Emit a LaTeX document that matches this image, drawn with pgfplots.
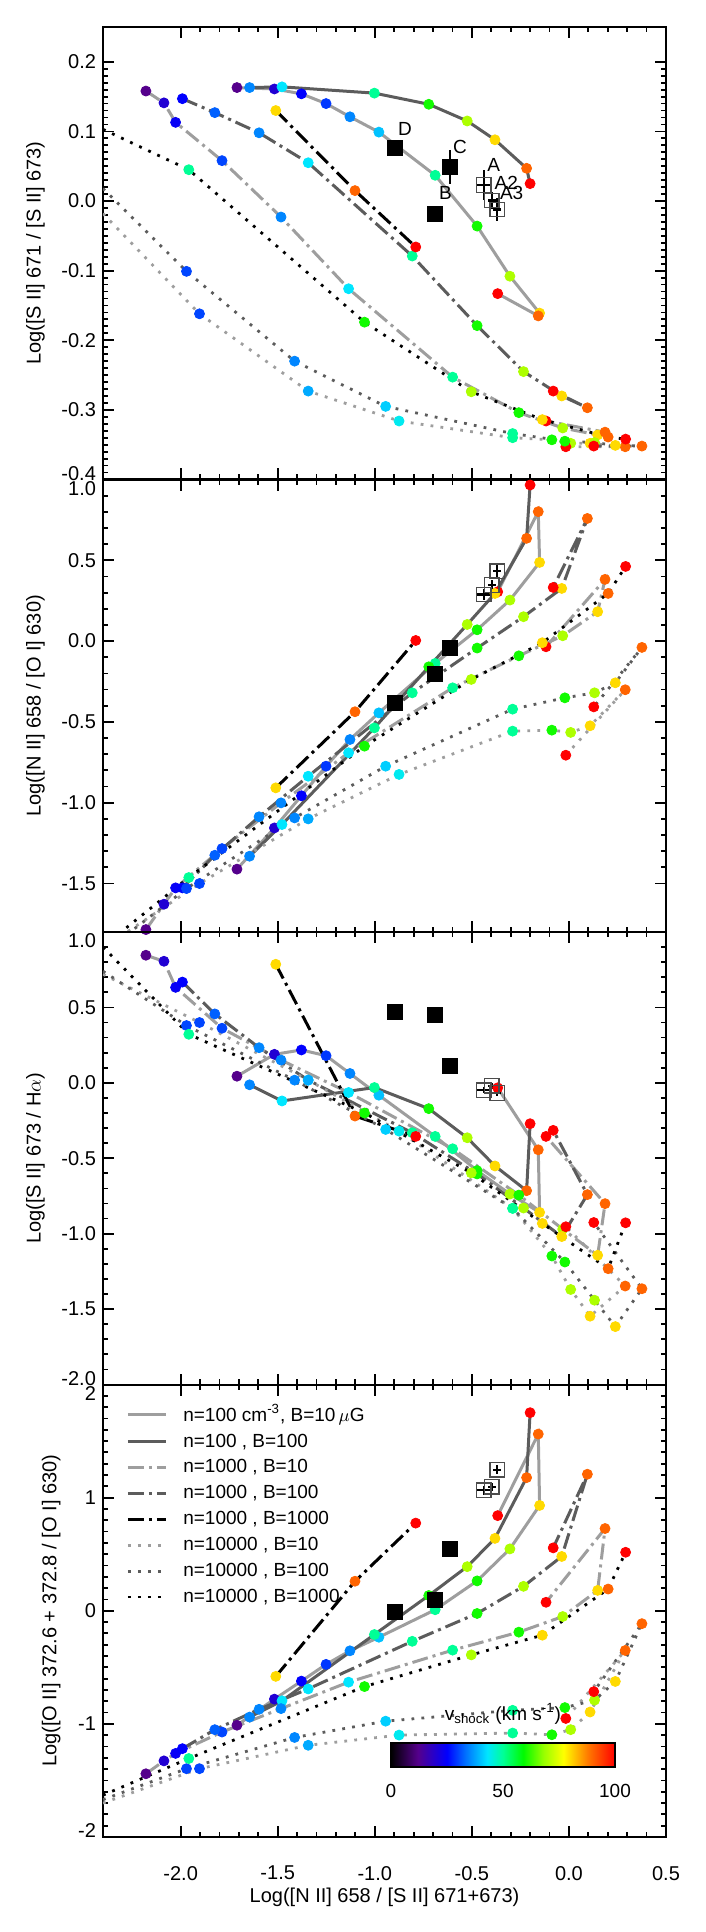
\documentclass[border=0pt]{standalone}
\usepackage{fontspec}
\setmainfont{Liberation Sans}
\usepackage{pgfplots}
\usepackage{pgfplotstable}
\pgfplotsset{compat=1.18}

\definecolor{lgray}{RGB}{158,158,158}
\definecolor{dgray}{RGB}{92,92,92}

% x = Log([N II]/[S II]), v = shock speed, a..d = y of the four panels
% n=100, B=10
\pgfplotstableread{
x      v    a       b       c       d
-1.710 12   0.163  -1.411   0.044  -1.012
-1.517 20   0.161  -1.156   0.189  -0.781
-1.378 25   0.154  -0.957   0.218  -0.622
-1.251 29   0.140  -0.774   0.180  -0.474
-1.128 35   0.121  -0.609   0.062  -0.354
-0.979 40   0.099  -0.444  -0.082  -0.234
-0.689 50   0.037  -0.138  -0.355   0.009
-0.473 60  -0.036   0.070  -0.582   0.264
-0.304 70  -0.108   0.254  -0.737   0.547
-0.151 80  -0.161   0.487  -0.859   0.931
-0.158 90  -0.165   0.801  -0.444   1.562
-0.367 100 -0.133   0.305  -0.033   0.841
}\mA
% n=100, B=100
\pgfplotstableread{
x      v    a       b       c       d
-1.645 35   0.163  -1.331  -0.013  -0.940
-1.478 43   0.164  -1.135  -0.120  -0.796
-1.002 50   0.155  -0.537  -0.031  -0.210
-0.722 60   0.139  -0.159  -0.171   0.135
-0.524 70   0.115   0.103  -0.364   0.390
-0.381 80   0.088   0.295  -0.551   0.640
-0.218 90   0.047   0.636  -0.715   1.177
-0.200 100  0.025   0.966  -0.271   1.751
}\mB
% n=1000, B=10
\pgfplotstableread{
x      v    a       b       c       d
-2.179 12   0.158  -1.785   0.846  -1.441
-2.086 20   0.141  -1.628   0.806  -1.327
-2.026 24   0.113  -1.527   0.633  -1.261
-1.787 30   0.058  -1.284   0.362  -1.072
-1.483 35  -0.023  -1.001   0.151  -0.865
-1.135 43  -0.126  -0.691  -0.064  -0.631
-0.599 50  -0.253  -0.289  -0.437  -0.348
-0.258 60  -0.304  -0.091  -0.744  -0.189
-0.032 70  -0.326   0.033  -0.970  -0.051
 0.148 80  -0.336   0.182  -1.143   0.180
 0.186 90  -0.332   0.382  -0.801   0.727
-0.118 100 -0.316  -0.035  -0.355   0.075
}\mC
% n=1000, B=100
\pgfplotstableread{
x      v    a       b       c       d
-1.991 25   0.147  -1.527   0.668  -1.219
-1.824 32   0.127  -1.325   0.457  -1.051
-1.596 35   0.098  -1.087   0.233  -0.871
-1.343 43   0.055  -0.836   0.018  -0.691
-0.807 50  -0.079  -0.320  -0.331  -0.270
-0.473 60  -0.179  -0.043  -0.604  -0.024
-0.234 70  -0.245   0.151  -0.830   0.216
-0.037 80  -0.280   0.326  -1.019   0.480
 0.095 90  -0.297   0.759  -0.741   1.207
-0.081 100 -0.273   0.332  -0.315   0.556
}\mD
% n=1000, B=1000
\pgfplotstableread{
x      v    a       b       c       d
-1.510 80   0.130  -0.908   0.786  -0.580
-1.102 90   0.015  -0.437  -0.220   0.261
-0.789 100 -0.066   0.004  -0.355   0.775
}\mE
% n=10000, B=10 (first row: where the line leaves the frame)
\pgfplotstableread{
x      v    a       b       c       d
-2.400 0   -0.018  -1.900   0.720  -1.700
-1.903 30  -0.162  -1.500   0.400  -1.396
-1.343 38  -0.273  -1.100   0.018  -1.189
-0.875 44  -0.316  -0.825  -0.320  -1.099
-0.290 50  -0.340  -0.557  -0.832  -1.081
-0.088 60  -0.343  -0.551  -1.148  -1.096
 0.009 70  -0.348  -0.565  -1.370  -1.051
 0.109 80  -0.348  -0.524  -1.547  -0.895
 0.290 90  -0.353  -0.301  -1.347  -0.351
-0.016 100 -0.353  -0.706  -0.954  -0.952
}\mF
% n=10000, B=100
\pgfplotstableread{
x      v    a       b       c       d
-2.400 0    0.018  -1.930   0.740  -1.670
-1.970 30  -0.101  -1.531   0.380  -1.396
-1.413 35  -0.230  -1.094   0.018  -1.120
-0.944 41  -0.295  -0.774  -0.309  -0.976
-0.290 50  -0.334  -0.421  -0.832  -0.880
-0.021 60  -0.345  -0.351  -1.188  -0.856
 0.132 70  -0.347  -0.320  -1.441  -0.790
 0.239 80  -0.351  -0.258  -1.616  -0.625
 0.376 90  -0.352  -0.039  -1.365  -0.114
 0.128 100 -0.352  -0.407  -0.926  -0.715
}\mG
% n=10000, B=1000
\pgfplotstableread{
x      v    a       b       c       d
-2.400 0    0.103  -1.890   0.900  -1.630
-1.958 50   0.045  -1.463   0.322  -1.306
-1.053 60  -0.174  -0.650  -0.200  -0.670
-0.503 70  -0.274  -0.237  -0.597  -0.390
-0.137 80  -0.314  -0.010  -0.932  -0.216
 0.202 90  -0.339   0.295  -1.232   0.192
 0.292 100 -0.342   0.462  -0.928   0.517
}\mH
% observed: D, B, C
\pgfplotstableread{
x      a      ea     b       c      d
-0.896  0.076 0.000  -0.380  0.468  -0.009
-0.689 -0.018 0.000  -0.200  0.451   0.099
-0.613  0.049 0.025  -0.045  0.111   0.550
}\obsK
% observed: A, A2, A3
\pgfplotstableread{
x      ex     a       ea     b      eb     c       ec     d      ed
-0.439 0.032  0.023  0.022  0.289  0.035 -0.049  0.020  1.066  0.040
-0.397 0.020  0.001  0.012  0.347  0.030 -0.020  0.020  1.096  0.035
-0.369 0.020 -0.012  0.016  0.433  0.035 -0.067  0.020  1.246  0.040
}\obsO

\pgfplotsset{
  /pgf/number format/assume math mode=true,
  lA/.style={draw=lgray, line width=1.5pt},
  lB/.style={draw=dgray, line width=1.5pt},
  dd/.style={line width=1.5pt, dash pattern=on 8pt off 2.5pt on 1.5pt off 2.5pt},
  lC/.style={draw=lgray, dd},
  lD/.style={draw=dgray, dd},
  lE/.style={draw=black, dd},
  dt/.style={line width=1.4pt, dash pattern=on 1.4pt off 3.6pt},
  lF/.style={draw=lgray, dt},
  lG/.style={draw=dgray, dt},
  lH/.style={draw=black, dt},
  dots/.style={scatter, only marks, mark=*, mark size=2.5pt, point meta=explicit,
    scatter/use mapped color={draw=mapped color, fill=mapped color},
    restrict x to domain=-2.39:1, forget plot},
  edgelabels/.style 2 args={yticklabel={%
    \ifnum\ticknum=#1\relax\raisebox{3pt}[\height][\depth]{\axisdefaultticklabel}%
    \else\ifnum\ticknum=#2\relax\raisebox{-4.5pt}[\height][\depth]{\axisdefaultticklabel}%
    \else\axisdefaultticklabel\fi\fi}},
  panel/.style={
    scale only axis, width=281.5pt, height=226.25pt,
    anchor=north west,
    xmin=-2.4, xmax=0.5,
    xtick={-2,-1.5,-1,-0.5,0,0.5},
    minor x tick num=4,
    xticklabels={},
    tick align=inside,
    major tick length=5.5pt, minor tick length=2.7pt,
    every tick/.style={black, line width=0.9pt},
    axis line style={line width=1pt},
    yticklabel style={/pgf/number format/fixed, /pgf/number format/zerofill,
      /pgf/number format/precision=1},
    ylabel style={at={(axis description cs:-0.12,0.5)}, anchor=center},
    colormap={idl}{
      rgb255(0cm)=(0,0,0);
      rgb255(0.12cm)=(85,0,140);
      rgb255(0.25cm)=(0,0,255);
      rgb255(0.33cm)=(0,110,255);
      rgb255(0.43cm)=(0,230,255);
      rgb255(0.5cm)=(0,255,150);
      rgb255(0.59cm)=(0,250,0);
      rgb255(0.68cm)=(150,255,0);
      rgb255(0.77cm)=(255,255,0);
      rgb255(0.88cm)=(255,120,0);
      rgb255(1cm)=(255,0,0)
    },
    point meta min=0, point meta max=100,
  },
}

\newcommand\drawmodels[1]{%
  \addplot[lA] table[x=x,y=#1]{\mA};
  \addplot[lB] table[x=x,y=#1]{\mB};
  \addplot[lC] table[x=x,y=#1]{\mC};
  \addplot[lD] table[x=x,y=#1]{\mD};
  \addplot[lE] table[x=x,y=#1]{\mE};
  \addplot[lF] table[x=x,y=#1]{\mF};
  \addplot[lG] table[x=x,y=#1]{\mG};
  \addplot[lH] table[x=x,y=#1]{\mH};
  \addplot[dots] table[x=x,y=#1,meta=v]{\mA};
  \addplot[dots] table[x=x,y=#1,meta=v]{\mB};
  \addplot[dots] table[x=x,y=#1,meta=v]{\mC};
  \addplot[dots] table[x=x,y=#1,meta=v]{\mD};
  \addplot[dots] table[x=x,y=#1,meta=v]{\mE};
  \addplot[dots] table[x=x,y=#1,meta=v]{\mF};
  \addplot[dots] table[x=x,y=#1,meta=v]{\mG};
  \addplot[dots] table[x=x,y=#1,meta=v]{\mH};
}
\newcommand\drawobs[2]{%
  \addplot[only marks, mark=square*, mark size=3.75pt, black, forget plot]
    table[x=x,y=#1]{\obsK};
  \addplot[only marks, mark=square, mark size=3.6pt,
    mark options={draw=black!70, line width=0.6pt}, forget plot,
    error bars/.cd, x dir=both, x explicit, y dir=both, y explicit, error mark=none,
    error bar style={black, line width=1.2pt}]
    table[x=x,y=#1,x error=ex,y error=#2]{\obsO};
}

\begin{document}
\begin{tikzpicture}

\begin{axis}[panel, at={(0pt,0pt)},
  ymin=-0.4, ymax=0.25,
  ytick={-0.4,-0.3,-0.2,-0.1,0,0.1,0.2},
  minor y tick num=9,
  edgelabels={0}{99},
  ylabel={Log([S II] 671 / [S II] 673)}]
\drawmodels{a}
\addplot[only marks, mark=square*, mark size=3.75pt, black, forget plot,
  error bars/.cd, y dir=both, y explicit, error mark=none,
  error bar style={line width=1.3pt}]
  table[x=x,y=a,y error=ea]{\obsK};
\addplot[only marks, mark=square, mark size=3.6pt,
  mark options={draw=black!70, line width=0.6pt}, forget plot,
  error bars/.cd, x dir=both, x explicit, y dir=both, y explicit, error mark=none,
  error bar style={black, line width=1.2pt}]
  table[x=x,y=a,x error=ex,y error=ea]{\obsO};
\node[font=\fontsize{9.5}{11}\selectfont] at (axis cs:-0.845,0.104) {D};
\node[font=\fontsize{9.5}{11}\selectfont] at (axis cs:-0.561,0.078) {C};
\node[font=\fontsize{9.5}{11}\selectfont] at (axis cs:-0.636,0.011) {B};
\node[font=\fontsize{9.5}{11}\selectfont] at (axis cs:-0.388,0.052) {A};
\node[font=\fontsize{9.5}{11}\selectfont] at (axis cs:-0.323,0.026) {A2};
\node[font=\fontsize{9.5}{11}\selectfont] at (axis cs:-0.295,0.012) {A3};
\end{axis}

\begin{axis}[panel, at={(0pt,-226.25pt)},
  ymin=-1.8, ymax=1.0,
  ytick={-1.5,-1,-0.5,0,0.5,1},
  minor y tick num=4,
  edgelabels={99}{5},
  ylabel={Log([N II] 658 / [O I] 630)}]
\drawmodels{b}
\drawobs{b}{eb}
\end{axis}

\begin{axis}[panel, at={(0pt,-452.5pt)},
  ymin=-2, ymax=1.0,
  ytick={-2,-1.5,-1,-0.5,0,0.5,1},
  minor y tick num=4,
  edgelabels={0}{6},
  ylabel={Log([S II] 673 / H$\alpha$)}]
\drawmodels{c}
\drawobs{c}{ec}
\end{axis}

\begin{axis}[panel, at={(0pt,-678.75pt)},
  ymin=-2, ymax=2,
  ytick={-2,-1,0,1,2},
  minor y tick num=9,
  edgelabels={0}{4},
  yticklabel style={/pgf/number format/precision=0, /pgf/number format/zerofill=false},
  ylabel style={at={(axis description cs:-0.092,0.5)}},
  ylabel={Log([O II] 372.6 + 372.8 / [O I] 630)},
  xticklabels={-2.0,-1.5,-1.0,-0.5,0.0,0.5},
  xticklabel style={yshift=-11pt},
  xlabel={Log([N II] 658 / [S II] 671+673)},
  xlabel style={at={(axis description cs:0.5,-0.1326)}, anchor=center},
  legend cell align=left,
  legend image code/.code={\draw[#1] (0pt,0pt) -- (19pt,0pt);},
  legend style={at={(axis description cs:0.03,0.975)}, anchor=north west,
    draw=none, fill=none, font=\fontsize{9.5}{11}\selectfont,
    row sep=0.8pt, /tikz/every odd column/.append style={column sep=6pt}},
  legend entries={
    {n=100 cm\textsuperscript{-3}, B=10\,$\mu$G},
    {n=100 , B=100},
    {n=1000 , B=10},
    {n=1000 , B=100},
    {n=1000 , B=1000},
    {n=10000 , B=10},
    {n=10000 , B=100},
    {n=10000 , B=1000}},
  colorbar horizontal,
  colorbar shift/.style={xshift=-25.5pt, yshift=35pt},
  colorbar style={
    at={(parent axis.south east)}, anchor=south east,
    width=112pt, height=12pt,
    xtick={0,50,100},
    major tick length=0pt,
    xticklabel style={font=\fontsize{9.5}{11}\selectfont, yshift=-5pt,
      /pgf/number format/fixed, /pgf/number format/precision=0},
    title={v\textsubscript{shock} (km s\textsuperscript{-1})},
    title style={font=\fontsize{9.5}{11}\selectfont, yshift=0pt},
    axis line style={line width=0.8pt},
  }]
\drawmodels{d}
\drawobs{d}{ed}
\end{axis}

\path (-51.5pt,13.5pt) rectangle (301.5pt,-952.5pt);
\end{tikzpicture}
\end{document}
